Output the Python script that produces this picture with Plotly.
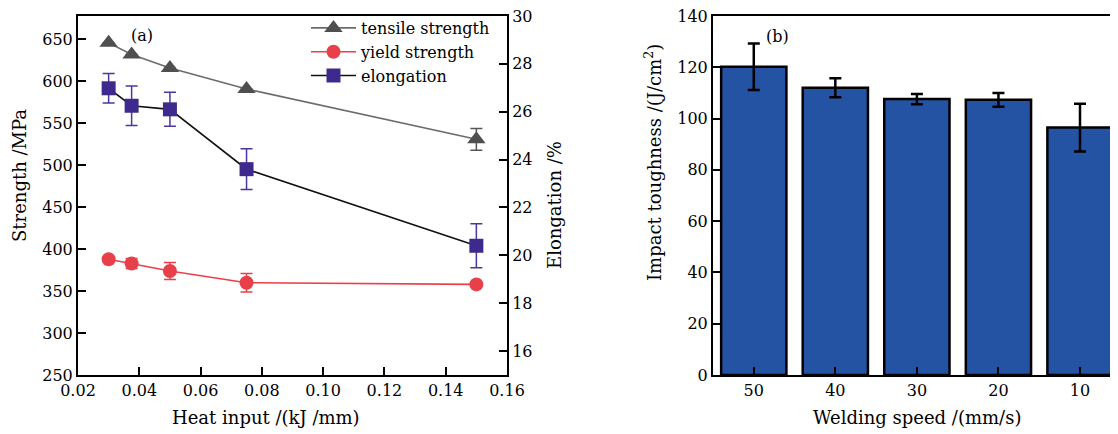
import plotly.graph_objects as go

# ---------- data: panel (a) ----------
heat_input = [0.03, 0.0375, 0.05, 0.075, 0.15]
tensile = [646, 632, 616, 591, 531]
tensile_err = [0, 0, 0, 0, 13]
yield_s = [388, 383, 374, 360, 358]
yield_err = [3, 6, 10, 11, 2]
elong = [26.98, 26.25, 26.1, 23.6, 20.4]
elong_err = [0.62, 0.82, 0.71, 0.85, 0.92]

# ---------- data: panel (b) ----------
speeds = ["50", "40", "30", "20", "10"]
toughness = [120.2, 112.0, 107.6, 107.3, 96.5]
toughness_err = [9.1, 3.7, 2.0, 2.7, 9.3]

# the page body has an 8 px default margin; size the figure to fill the rest
OFF = 8
W, H = 1118 - OFF, 434 - OFF
FONT = "DejaVu Serif"
FS = 16
FT = 18


def fx(px):
    return (px - OFF) / W


def fy(py):
    return 1 - (py - OFF) / H


fig = go.Figure()

fig.add_trace(go.Scatter(
    x=heat_input, y=tensile, name="tensile strength", mode="lines+markers",
    line=dict(color="#6b6b6b", width=1.6),
    marker=dict(symbol="triangle-up", size=16, color="#4f4f4f"),
    error_y=dict(type="data", array=tensile_err, color="#555555", thickness=1.5, width=6, visible=True),
    xaxis="x", yaxis="y"))

fig.add_trace(go.Scatter(
    x=heat_input, y=yield_s, name="yield strength", mode="lines+markers",
    line=dict(color="#ee3e48", width=1.6),
    marker=dict(symbol="circle", size=14, color="#e8404a"),
    error_y=dict(type="data", array=yield_err, color="#e8404a", thickness=1.5, width=6, visible=True),
    xaxis="x", yaxis="y"))

fig.add_trace(go.Scatter(
    x=heat_input, y=elong, name="elongation", mode="lines+markers",
    line=dict(color="#111111", width=1.6),
    marker=dict(symbol="square", size=14, color="#3e2a8c"),
    error_y=dict(type="data", array=elong_err, color="#4b37a3", thickness=1.5, width=6, visible=True),
    xaxis="x", yaxis="y2"))

fig.add_trace(go.Bar(
    x=speeds, y=toughness, width=0.8, showlegend=False,
    marker=dict(color="#2453a3", line=dict(color="black", width=2.5)),
    error_y=dict(type="data", array=toughness_err, color="black", thickness=2.5, width=6, visible=True),
    xaxis="x3", yaxis="y3"))

ax_common = dict(showgrid=False, zeroline=False, showline=True, linecolor="black", linewidth=2,
                 ticks="inside", ticklen=8, tickwidth=2, tickcolor="black", automargin=False,
                 ticklabeloverflow="allow",
                 tickfont=dict(family=FONT, size=FS, color="black"))

y_dom = [fy(375), fy(16)]

fig.update_layout(
    width=W, height=H, margin=dict(l=0, r=0, t=0, b=0, autoexpand=False),
    paper_bgcolor="white", plot_bgcolor="white",
    font=dict(family=FONT, size=FS, color="black"),
    xaxis=dict(domain=[fx(78), fx(507)], range=[0.02, 0.16], dtick=0.02, tick0=0.02,
               tickformat=".2f", mirror=True, anchor="y", **ax_common),
    yaxis=dict(domain=y_dom, range=[250, 678], dtick=50, tick0=250, anchor="x", **ax_common),
    yaxis2=dict(domain=y_dom, range=[15, 30], dtick=2, tick0=16, overlaying="y", side="right",
                anchor="x", **ax_common),
    xaxis3=dict(domain=[fx(713), 1.0], range=[-0.5, 4.466], type="category", mirror=True,
                anchor="y3", **ax_common),
    yaxis3=dict(domain=y_dom, range=[0, 140], dtick=20, anchor="x3", **ax_common),
    legend=dict(x=fx(306), y=fy(11), xanchor="left", yanchor="top", bgcolor="rgba(0,0,0,0)",
                font=dict(family=FONT, size=FS, color="black"), itemwidth=45, tracegroupgap=0),
    bargap=0.2,
)

ann = [
    dict(text="Strength /MPa", x=fx(20), y=fy(176), textangle=-90, size=FT),
    dict(text="Elongation /%", x=fx(554), y=fy(205), textangle=-90, size=FT),
    dict(text="Heat input /(kJ /mm)", x=fx(266), y=fy(417), textangle=0, size=FT),
    dict(text="Impact toughness /(J/cm<sup>2</sup>)", x=fx(653), y=fy(163), textangle=-90, size=FT),
    dict(text="Welding speed /(mm/s)", x=fx(917), y=fy(417), textangle=0, size=FT),
    dict(text="(a)", x=fx(142), y=fy(35), textangle=0, size=FS),
    dict(text="(b)", x=fx(777), y=fy(36), textangle=0, size=FS),
]
for a in ann:
    fig.add_annotation(xref="paper", yref="paper", showarrow=False,
                       xanchor="center", yanchor="middle",
                       text=a["text"], x=a["x"], y=a["y"], textangle=a["textangle"],
                       font=dict(family=FONT, size=a["size"], color="black"))

fig.write_html("out.html")
